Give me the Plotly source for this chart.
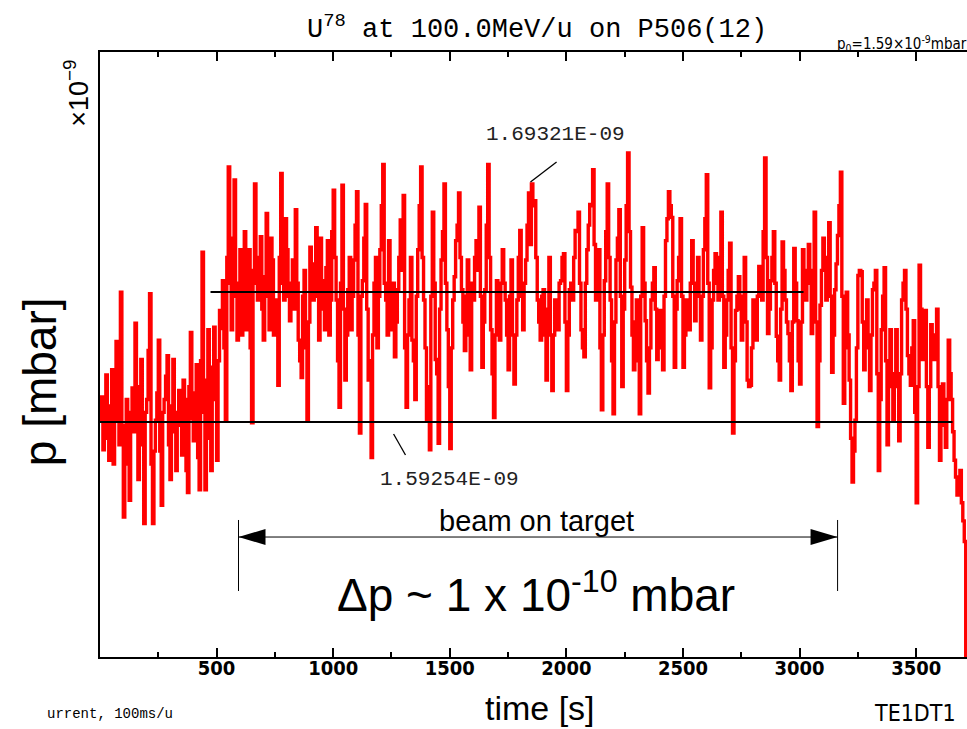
import plotly.graph_objects as go

# ---------------- data (pressure in units of 1e-9 mbar) ----------------
sample_step_s = 6.25
# readings at every second sample
pressure_a = [
    1.594, 1.571, 1.629, 1.563, 1.633, 1.594, 1.621, 1.693, 1.519, 1.610,
    1.532, 1.619, 1.669, 1.548, 1.641, 1.514, 1.610, 1.692, 1.514, 1.594,
    1.656, 1.528, 1.610, 1.644, 1.548, 1.641, 1.555, 1.617, 1.567, 1.610,
    1.538, 1.662, 1.578, 1.637, 1.540, 1.724, 1.540, 1.664, 1.555, 1.666,
    1.563, 1.679, 1.702, 1.594, 1.790, 1.664, 1.780, 1.656, 1.726, 1.710,
    1.664, 1.726, 1.592, 1.777, 1.687, 1.736, 1.656, 1.754, 1.664, 1.718,
    1.687, 1.621, 1.785, 1.687, 1.726, 1.671, 1.718, 1.757, 1.656, 1.627,
    1.710, 1.594, 1.728, 1.687, 1.743, 1.656, 1.702, 1.664, 1.733, 1.687,
    1.772, 1.687, 1.604, 1.776, 1.625, 1.695, 1.664, 1.718, 1.771, 1.584,
    1.702, 1.761, 1.625, 1.565, 1.700, 1.650, 1.726, 1.792, 1.687, 1.733,
    1.664, 1.643, 1.695, 1.749, 1.768, 1.604, 1.687, 1.656, 1.610, 1.726,
    1.790, 1.687, 1.594, 1.571, 1.755, 1.641, 1.576, 1.718, 1.777, 1.664,
    1.572, 1.687, 1.733, 1.770, 1.695, 1.648, 1.718, 1.633, 1.687, 1.733,
    1.759, 1.635, 1.695, 1.792, 1.664, 1.596, 1.702, 1.656, 1.726, 1.687,
    1.633, 1.718, 1.622, 1.687, 1.741, 1.664, 1.718, 1.770, 1.777, 1.764,
    1.687, 1.656, 1.695, 1.625, 1.720, 1.617, 1.687, 1.664, 1.702, 1.723,
    1.617, 1.695, 1.687, 1.741, 1.755, 1.664, 1.643, 1.726, 1.761, 1.788,
    1.687, 1.726, 1.602, 1.702, 1.777, 1.687, 1.599, 1.718, 1.757, 1.620,
    1.718, 1.801, 1.697, 1.633, 1.687, 1.599, 1.743, 1.671, 1.615, 1.687,
    1.712, 1.641, 1.679, 1.633, 1.733, 1.771, 1.751, 1.635, 1.702, 1.750,
    1.635, 1.687, 1.664, 1.733, 1.671, 1.720, 1.656, 1.726, 1.784, 1.619,
    1.687, 1.723, 1.687, 1.755, 1.635, 1.687, 1.731, 1.584, 1.679, 1.705,
    1.656, 1.720, 1.625, 1.621, 1.687, 1.656, 1.713, 1.687, 1.797, 1.661,
    1.702, 1.740, 1.659, 1.625, 1.732, 1.687, 1.661, 1.617, 1.727, 1.671,
    1.622, 1.726, 1.687, 1.730, 1.661, 1.755, 1.589, 1.683, 1.735, 1.687,
    1.747, 1.631, 1.695, 1.737, 1.786, 1.607, 1.693, 1.625, 1.546, 1.594,
    1.706, 1.709, 1.633, 1.687, 1.617, 1.695, 1.710, 1.555, 1.664, 1.712,
    1.575, 1.664, 1.594, 1.664, 1.578, 1.687, 1.710, 1.644, 1.621, 1.671,
    1.530, 1.714, 1.641, 1.679, 1.573, 1.668, 1.641, 1.680, 1.563, 1.622,
    1.573, 1.656, 1.610, 1.563, 1.536, 1.555, 1.516, 1.377,
]
# readings at the samples in between
pressure_b = [
    1.612, 1.598, 1.580, 1.605, 1.560, 1.655, 1.575, 1.590, 1.578, 1.560,
    1.600, 1.585, 1.590, 1.620, 1.575, 1.600, 1.648, 1.560, 1.570, 1.615,
    1.570, 1.600, 1.628, 1.575, 1.605, 1.585, 1.600, 1.590, 1.625, 1.555,
    1.620, 1.595, 1.615, 1.565, 1.640, 1.600, 1.625, 1.580, 1.635, 1.610,
    1.640, 1.665, 1.650, 1.720, 1.700, 1.735, 1.690, 1.700, 1.660, 1.740,
    1.700, 1.650, 1.710, 1.700, 1.720, 1.680, 1.705, 1.690, 1.735, 1.660,
    1.660, 1.720, 1.700, 1.750, 1.690, 1.700, 1.680, 1.700, 1.640, 1.690,
    1.650, 1.670, 1.700, 1.715, 1.690, 1.735, 1.680, 1.712, 1.660, 1.740,
    1.720, 1.640, 1.700, 1.680, 1.660, 1.720, 1.690, 1.745, 1.660, 1.690,
    1.735, 1.680, 1.640, 1.660, 1.720, 1.690, 1.760, 1.700, 1.660, 1.700,
    1.700, 1.670, 1.720, 1.710, 1.650, 1.660, 1.720, 1.640, 1.690, 1.760,
    1.720, 1.650, 1.620, 1.690, 1.700, 1.630, 1.680, 1.740, 1.700, 1.620,
    1.650, 1.705, 1.745, 1.720, 1.670, 1.690, 1.660, 1.700, 1.720, 1.710,
    1.690, 1.670, 1.745, 1.720, 1.630, 1.660, 1.690, 1.700, 1.700, 1.660,
    1.690, 1.660, 1.660, 1.720, 1.690, 1.700, 1.745, 1.730, 1.760, 1.720,
    1.670, 1.690, 1.660, 1.680, 1.660, 1.660, 1.680, 1.700, 1.720, 1.670,
    1.660, 1.700, 1.720, 1.740, 1.700, 1.650, 1.700, 1.745, 1.760, 1.730,
    1.710, 1.650, 1.660, 1.740, 1.720, 1.640, 1.670, 1.735, 1.690, 1.680,
    1.760, 1.740, 1.660, 1.670, 1.640, 1.690, 1.700, 1.640, 1.650, 1.700,
    1.680, 1.660, 1.650, 1.690, 1.750, 1.760, 1.690, 1.680, 1.720, 1.690,
    1.660, 1.675, 1.700, 1.700, 1.700, 1.690, 1.690, 1.750, 1.700, 1.650,
    1.710, 1.700, 1.720, 1.690, 1.660, 1.710, 1.650, 1.640, 1.690, 1.680,
    1.690, 1.670, 1.620, 1.650, 1.670, 1.690, 1.700, 1.740, 1.720, 1.680,
    1.720, 1.700, 1.640, 1.680, 1.710, 1.670, 1.640, 1.670, 1.700, 1.640,
    1.670, 1.700, 1.710, 1.700, 1.710, 1.670, 1.640, 1.710, 1.710, 1.720,
    1.690, 1.660, 1.715, 1.760, 1.690, 1.650, 1.660, 1.580, 1.570, 1.650,
    1.710, 1.670, 1.660, 1.650, 1.660, 1.700, 1.630, 1.610, 1.690, 1.640,
    1.620, 1.630, 1.630, 1.620, 1.630, 1.700, 1.680, 1.630, 1.650, 1.600,
    1.620, 1.680, 1.660, 1.620, 1.620, 1.650, 1.660, 1.620, 1.590, 1.600,
    1.610, 1.630, 1.585, 1.550, 1.545, 1.530, 1.500,
]
pressure = []
for k, va in enumerate(pressure_a):
    pressure.append(va)
    if k < len(pressure_b):
        pressure.append(pressure_b[k])
time_s = [i * sample_step_s for i in range(len(pressure))]

level_low = 1.59254      # baseline level
level_high = 1.69321     # level with beam on target
low_span = [0, 3656]     # time extent of baseline line
high_span = [474, 3017]  # time extent of beam level line
beam_times = [594, 3163]  # beam on target interval
arrow_level = 1.5035
bar_levels = [1.5167, 1.4617]

x_ticks = [500, 1000, 1500, 2000, 2500, 3000, 3500]
x_range = [0, 3718]
y_range = [1.4106, 1.8791]

# ---------------- figure ----------------
fig = go.Figure()
fig.add_trace(go.Scatter(x=time_s, y=pressure, mode="lines",
                         line=dict(color="#ff0000", width=3.4, shape="hv", simplify=False),
                         showlegend=False, hoverinfo="skip"))
fig.add_trace(go.Scatter(x=low_span, y=[level_low, level_low], mode="lines",
                         line=dict(color="black", width=2), showlegend=False))
fig.add_trace(go.Scatter(x=high_span, y=[level_high, level_high], mode="lines",
                         line=dict(color="black", width=2), showlegend=False))

# beam-on-target arrow
fig.add_shape(type="line", xref="x", yref="y", x0=beam_times[0], x1=beam_times[1],
              y0=arrow_level, y1=arrow_level, line=dict(color="black", width=1))
for bt in beam_times:
    fig.add_shape(type="line", xref="x", yref="y", x0=bt, x1=bt,
                  y0=bar_levels[0], y1=bar_levels[1], line=dict(color="black", width=1))
fig.add_shape(type="path", xref="x", yref="y", xsizemode="pixel", ysizemode="pixel",
              xanchor=beam_times[0], yanchor=arrow_level,
              path="M0,0 L27,8 L27,-8 Z", fillcolor="black", line=dict(width=0))
fig.add_shape(type="path", xref="x", yref="y", xsizemode="pixel", ysizemode="pixel",
              xanchor=beam_times[1], yanchor=arrow_level,
              path="M0,0 L-27,8 L-27,-8 Z", fillcolor="black", line=dict(width=0))

# leader lines for level labels
fig.add_shape(type="line", xref="x", yref="y", x0=1846, y0=1.7784, x1=1958, y1=1.7939,
              line=dict(color="black", width=1.3))
fig.add_shape(type="line", xref="x", yref="y", x0=1259, y0=1.5833, x1=1310, y1=1.5670,
              line=dict(color="black", width=1.3))

mono = "Liberation Mono, DejaVu Sans Mono, monospace"
narrow = "Liberation Sans Narrow, DejaVu Sans Condensed, Arial Narrow, sans-serif"
arial = "Liberation Sans, Arial, sans-serif"

ann = []
def txt(x, y, text, size, family, xref="paper", yref="paper", xanchor="center",
        angle=0, color="black"):
    ann.append(dict(x=x, y=y, xref=xref, yref=yref, text=text, showarrow=False,
                    xanchor=xanchor, yanchor="middle", textangle=angle,
                    font=dict(size=size, family=family, color=color)))

txt(1953, 1.8156, "1.69321E-09", 21, mono, xref="x", yref="y", color="#222")
txt(1499, 1.5484, "1.59254E-09", 21, mono, xref="x", yref="y", color="#222")
txt(0.503, 0.224, "beam on target", 29, arial)
txt(0.503, 0.107, "Δp ~ 1 x 10<sup>-10</sup> mbar", 46, arial)
txt(0.504, 1.040, "U<sup>78</sup> at 100.0MeV/u on P506(12)", 27, mono)
txt(0.8478, 1.014, "p<sub>0</sub>=1.59×10<sup>-9</sup>mbar", 15, narrow, xanchor="left")
txt(-0.027, 0.932, "×10<sup>−9</sup>", 27, arial, angle=-90)
txt(-0.069, 0.4545, "p [mbar]", 46, arial, angle=-90)
txt(0.5075, -0.085, "time [s]", 34, arial)
txt(0.94, -0.092, "TE1DT1", 23, narrow)
txt(0.011, -0.095, "urrent, 100ms/u", 14, mono)

fig.update_layout(
    width=967, height=729,
    margin=dict(l=100, r=0, t=52, b=72),
    paper_bgcolor="white", plot_bgcolor="white",
    annotations=ann,
    showlegend=False,
)
fig.update_xaxes(range=x_range, tickvals=x_ticks, ticktext=[str(v) for v in x_ticks],
                 ticks="inside", ticklen=9, tickwidth=2, tickcolor="black",
                 minor=dict(dtick=250, ticks="inside", ticklen=5, tickwidth=2, tickcolor="black"),
                 showline=True, linewidth=2, linecolor="black", mirror="ticks",
                 showgrid=False, zeroline=False, ticklabelstandoff=-8,
                 tickfont=dict(family=narrow, size=20, color="black", weight="bold"))
fig.update_yaxes(range=y_range, showticklabels=False, ticks="",
                 showline=True, linewidth=2, linecolor="black",
                 showgrid=False, zeroline=False)

fig.write_html("out.html")
